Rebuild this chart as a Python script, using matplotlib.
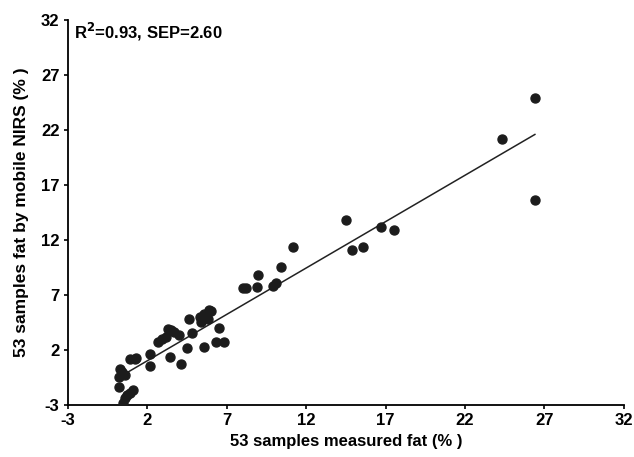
import numpy as np
import matplotlib
matplotlib.use("Agg")
import matplotlib.pyplot as plt

# measured fat (%) vs. mobile NIRS prediction (%) for the 53 samples
measured = [26.4, 24.3, 26.4,
            14.5, 16.7, 17.5, 14.9, 15.6, 11.2, 10.4, 9.0, 10.1, 9.9, 8.9, 8.2, 8.0,
            5.9, 5.6, 5.4, 4.6, 6.5, 6.3, 6.8, 5.6, 4.8, 4.5, 4.1, 3.3, 3.7, 3.2,
            2.7, 3.4, 2.2, 2.2,
            0.9, 1.3, 0.3, 0.6, 0.2, 0.2, 1.1, 0.9, 0.6, 0.5,
            3.5, 2.9, 5.3, 6.0, 0.4, 0.7, 1.2, 4.0, 5.8]
predicted = [24.9, 21.2, 15.6,
             13.8, 13.2, 12.9, 11.1, 11.4, 11.4, 9.5, 8.8, 8.1, 7.8, 7.7, 7.6, 7.6,
             5.6, 5.3, 4.5, 4.8, 4.0, 2.7, 2.7, 2.3, 3.5, 2.2, 0.7, 3.9, 3.6, 3.2,
             2.7, 1.4, 1.6, 0.5,
             1.2, 1.3, 0.3, -0.3, -0.5, -1.4, -1.6, -1.9, -2.4, -2.8,
             3.8, 3.0, 5.0, 5.5, 0.0, -2.1, 1.2, 3.4, 4.8]

# regression line end points as drawn in the figure
fit_x = [0.8, 26.4]
fit_y = [0.0, 21.6]

ticks = [-3, 2, 7, 12, 17, 22, 27, 32]
tick_labels = ["-3", "2", "7", "12", "17", "22", "27", "32"]

plt.rcParams['font.family'] = ['Liberation Sans', 'DejaVu Sans']
plt.rcParams['font.weight'] = 'bold'
plt.rcParams['mathtext.default'] = 'bf'

fig = plt.figure(figsize=(6.34, 4.57), dpi=100)
ax = fig.add_axes([0.107, 0.114, 0.877, 0.842])

ax.scatter(measured, predicted, s=42, color='#1c1c1c', edgecolors='#1c1c1c', zorder=3)
ax.plot(fit_x, fit_y, color='#222222', linewidth=1.1, zorder=2)

ax.set_xlim(-3, 32)
ax.set_ylim(-3, 32)
ax.set_xticks(ticks)
ax.set_xticklabels(tick_labels)
ax.set_yticks(ticks)
ax.set_yticklabels(tick_labels)

for side in ['top', 'right']:
    ax.spines[side].set_visible(False)
for side in ['left', 'bottom']:
    ax.spines[side].set_linewidth(1.3)
ax.tick_params(axis='both', length=3, width=1.2, labelsize=12, pad=3)

ax.set_xlabel('53 samples measured fat (% )', fontsize=12, fontweight='bold', labelpad=4)
ax.set_ylabel('53 samples fat by mobile NIRS (% )', fontsize=12.5, fontweight='bold', labelpad=9)

ax.text(-2.6, 31.9, 'R$^{2}$=0.93, SEP=2.60', fontsize=12, fontweight='bold',
        va='top', ha='left')

fig.savefig('out.png', dpi=100, facecolor='white')
